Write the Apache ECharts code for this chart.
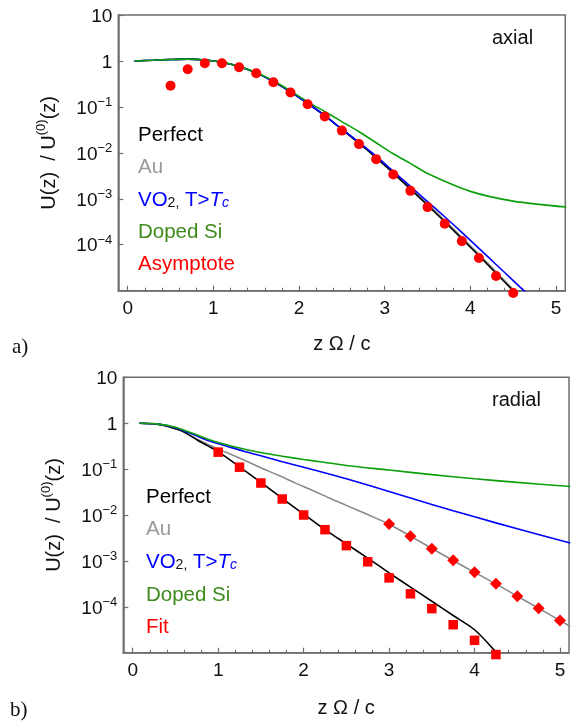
<!DOCTYPE html>
<html><head><meta charset="utf-8">
<script src="https://cdn.jsdelivr.net/npm/echarts@6/dist/echarts.min.js"></script>
<style>html,body{margin:0;padding:0;background:#fff}#c{width:581px;height:724px}</style>
</head><body><div id="c"></div>
<script>
// ---------- data ----------
const xMajor = [0, 1, 2, 3, 4, 5];
const xMinor = [0.2,0.4,0.6,0.8,1.2,1.4,1.6,1.8,2.2,2.4,2.6,2.8,3.2,3.4,3.6,3.8,4.2,4.4,4.6,4.8];

// panel a) axial
const axPerfX = [0.08,0.3,0.5,0.7,0.9,1.1,1.3,1.5,1.7,1.9,2.1,2.3,2.5,2.7,2.9,3.1,3.3,3.5,3.7,3.9,4.1,4.3,4.5,4.55];
const axPerfY = [1,1.035,1.072,1.096,1.047,0.933,0.759,0.550,0.355,0.214,0.120,0.0646,0.0324,0.0162,7.76e-3,3.63e-3,1.62e-3,7.24e-4,3.16e-4,1.35e-4,5.75e-5,2.40e-5,1.0e-5,8.1e-6];
const axAuX = [0.08,0.3,0.5,0.7,0.9,1.1,1.3,1.5,1.7,1.9,2.1,2.3,2.5,2.7,2.9,3.1,3.3,3.5,3.7,3.9,4.1,4.3,4.5,4.6];
const axAuY = [1,1.035,1.072,1.096,1.047,0.933,0.759,0.550,0.355,0.214,0.120,0.0646,0.0331,0.0170,8.13e-3,3.80e-3,1.74e-3,7.76e-4,3.39e-4,1.45e-4,6.17e-5,2.57e-5,1.07e-5,7.1e-6];
const axVOX = [0.08,0.3,0.5,0.7,0.9,1.1,1.3,1.5,1.7,1.9,2.1,2.3,2.5,2.7,2.9,3.1,3.3,3.5,3.7,3.9,4.1,4.3,4.5,4.7];
const axVOY = [1,1.035,1.072,1.096,1.047,0.933,0.759,0.550,0.355,0.214,0.120,0.0646,0.0331,0.0170,8.51e-3,3.98e-3,1.86e-3,8.71e-4,4.07e-4,1.86e-4,8.32e-5,3.72e-5,1.66e-5,7.4e-6];
const axSiX = [0.08,0.3,0.5,0.7,0.9,1.1,1.3,1.5,1.7,1.9,2.1,2.3,2.5,2.7,2.9,3.1,3.3,3.5,4.0,4.5,5.12];
const axSiY = [1,1.035,1.072,1.096,1.047,0.933,0.759,0.562,0.372,0.224,0.129,0.0794,0.0479,0.0288,0.0166,9.55e-3,5.89e-3,3.55e-3,1.45e-3,8.91e-4,6.61e-4];
const axAsymX = [0.5,0.7,0.9,1.1,1.3,1.5,1.7,1.9,2.1,2.3,2.5,2.7,2.9,3.1,3.3,3.5,3.7,3.9,4.1,4.3,4.5];
const axAsymY = [0.290,0.659,0.891,0.891,0.729,0.540,0.344,0.205,0.114,0.0617,0.0305,0.0155,7.29e-3,3.39e-3,1.49e-3,6.59e-4,2.86e-4,1.20e-4,5.13e-5,2.09e-5,8.9e-6];

// panel b) radial
const raPerfX = [0.08,0.3,0.4,0.5,0.6,0.75,0.875,1.0,1.25,1.5,1.75,2.0,2.25,2.5,2.75,3.0,3.25,3.5,3.75,4.0,4.26,4.3];
const raPerfY = [1,0.944,0.861,0.759,0.646,0.437,0.324,0.240,0.112,0.0513,0.0229,0.0105,4.79e-3,2.34e-3,1.15e-3,5.50e-4,2.69e-4,1.32e-4,6.46e-5,3.16e-5,1.0e-5,8.3e-6];
const raAuX = [0.08,0.3,0.5,0.7,0.9,1.1,1.3,1.5,1.7,1.9,2.1,2.3,2.5,2.75,3.0,3.25,3.5,3.75,4.0,4.25,4.5,4.75,5.0,5.12];
const raAuY = [1,0.955,0.776,0.501,0.331,0.229,0.158,0.107,0.0741,0.0501,0.0347,0.0234,0.0162,0.0102,6.31e-3,3.47e-3,1.86e-3,1.02e-3,5.62e-4,3.16e-4,1.70e-4,9.33e-5,5.01e-5,3.72e-5];
const raVOX = [0.08,0.3,0.5,0.7,0.9,1.1,1.3,1.5,1.75,2.0,2.19,2.5,3.0,3.5,4.0,4.5,5.12];
const raVOY = [1,0.955,0.794,0.575,0.407,0.316,0.245,0.195,0.145,0.110,0.0891,0.0617,0.0324,0.0170,9.12e-3,5.01e-3,2.45e-3];
const raSiX = [0.08,0.3,0.5,0.7,0.9,1.1,1.3,1.5,1.75,2.0,2.19,2.5,3.0,3.5,4.0,4.5,5.12];
const raSiY = [1,0.955,0.813,0.603,0.437,0.339,0.275,0.229,0.191,0.162,0.145,0.120,0.0955,0.0759,0.0617,0.0513,0.0419];
const raFitPerfX = [1.0,1.25,1.5,1.75,2.0,2.25,2.5,2.75,3.0,3.25,3.5,3.75,4.0,4.25];
const raFitPerfY = [0.234,0.110,0.0497,0.0223,0.0100,4.79e-3,2.15e-3,9.55e-4,4.27e-4,1.92e-4,9.12e-5,4.07e-5,1.86e-5,9.1e-6];
const raFitAuX = [3.0,3.25,3.5,3.75,4.0,4.25,4.5,4.75,5.0];
const raFitAuY = [6.37e-3,3.43e-3,1.85e-3,1.03e-3,5.65e-4,3.16e-4,1.70e-4,9.33e-5,5.01e-5];

// ---------- styles ----------
const SANS = '"Liberation Sans", Arial, sans-serif';
const SERIF = '"Liberation Serif", "DejaVu Serif", serif';
const AX = '#6e6e6e';
const C_PERF = '#000000', C_AU = '#8a8a8a', C_VO = '#0000ff', C_SI = '#0ba00b', C_RED = '#ff0000';
const C_SI_TXT = '#3f8a1c', C_AU_TXT = '#9a9a9a';

const zip = (xs, ys) => xs.map((x, i) => [x, ys[i]]);

function yAxisCfg(gi) {
  return {
    type: 'log', logBase: 10, gridIndex: gi, min: 1e-5, max: 10,
    axisLine: { show: true, onZero: false, lineStyle: { color: AX, width: 1.5 } },
    axisTick: { show: true, inside: true, length: 5, lineStyle: { color: AX, width: 1.2 } },
    splitLine: { show: false },
    axisLabel: {
      margin: 6, color: '#111', fontFamily: SANS, fontSize: 19,
      formatter: v => {
        const e = Math.round(Math.log10(v));
        if (e <= -5) return '';
        if (e === 1) return '{b|10}';
        if (e === 0) return '{b|1}';
        return '{b|10}{s|\u2212' + (-e) + '}';
      },
      rich: {
        b: { fontSize: 19, fontFamily: SANS, color: '#111', lineHeight: 22, verticalAlign: 'bottom' },
        s: { fontSize: 13, fontFamily: SANS, color: '#111', lineHeight: 13, verticalAlign: 'top' }
      }
    },
    name: '{b|U(z)  / U}{s|(0)}{b|(z)}',
    nameLocation: 'middle', nameRotate: 90, nameGap: 59,
    nameTextStyle: {
      fontFamily: SANS, fontSize: 20, color: '#111',
      rich: {
        b: { fontSize: 20, fontFamily: SANS, color: '#111', lineHeight: 24, verticalAlign: 'bottom' },
        s: { fontSize: 13, fontFamily: SANS, color: '#111', lineHeight: 13, verticalAlign: 'top' }
      }
    }
  };
}
function xAxisMain(gi, min, max, gap) {
  return {
    type: 'value', gridIndex: gi, min: min, max: max, position: 'bottom',
    axisLine: { show: true, onZero: false, lineStyle: { color: AX, width: 1.5 } },
    axisTick: { show: true, inside: true, length: 5, customValues: xMajor, lineStyle: { color: AX, width: 1.2 } },
    axisLabel: { customValues: xMajor, margin: 9, color: '#111', fontFamily: SANS, fontSize: 19 },
    splitLine: { show: false },
    name: 'z \u03A9 / c', nameLocation: 'middle', nameGap: gap,
    nameTextStyle: { fontFamily: SANS, fontSize: 20, color: '#111' }
  };
}
function xAxisMinor(gi, min, max) {
  return {
    type: 'value', gridIndex: gi, min: min, max: max, position: 'bottom',
    axisLine: { show: false, onZero: false },
    axisTick: { show: true, inside: true, length: 3, customValues: xMinor, lineStyle: { color: AX, width: 1.1 } },
    axisLabel: { show: false },
    splitLine: { show: false }
  };
}
function lineS(name, xi, yi, xs, ys, color) {
  return { name, type: 'line', xAxisIndex: xi, yAxisIndex: yi, data: zip(xs, ys), smooth: 0.3,
    showSymbol: false, symbol: 'none', lineStyle: { color, width: 1.6 }, itemStyle: { color }, z: 2 };
}
function legendCfg(left, top, gap, last) {
  return {
    orient: 'vertical', left, top, padding: 0, icon: 'none', itemWidth: 0, itemHeight: 20, itemGap: gap,
    selectedMode: false,
    textStyle: { fontFamily: SANS, fontSize: 20.5, lineHeight: 20,
      rich: {
        v: { fontSize: 20.5, fontFamily: SANS, color: C_VO, lineHeight: 20, verticalAlign: 'middle' },
        sub: { fontSize: 14, fontFamily: SANS, color: '#111', lineHeight: 9, verticalAlign: 'bottom' },
        vi: { fontSize: 20.5, fontFamily: SANS, color: C_VO, fontStyle: 'italic', lineHeight: 20, verticalAlign: 'middle' },
        vs: { fontSize: 14, fontFamily: SANS, color: C_VO, fontStyle: 'italic', lineHeight: 9, verticalAlign: 'bottom' }
      }
    },
    formatter: n => n === 'VO2' ? '{v|VO}{sub|2,} {v|T>}{vi|T}{vs|c}' : n,
    data: [
      { name: 'Perfect', textStyle: { color: '#000' } },
      { name: 'Au', textStyle: { color: C_AU_TXT } },
      { name: 'VO2', textStyle: { color: C_VO } },
      { name: 'Doped Si', textStyle: { color: C_SI_TXT } },
      { name: last, textStyle: { color: C_RED } }
    ]
  };
}

const option = {
  backgroundColor: '#fff',
  animation: false,
  grid: [
    { left: 118.3, top: 15, width: 447, height: 275.7, show: true, borderColor: AX, borderWidth: 1.5, backgroundColor: 'transparent' },
    { left: 123.3, top: 377.3, width: 445.7, height: 275.4, show: true, borderColor: AX, borderWidth: 1.5, backgroundColor: 'transparent' }
  ],
  xAxis: [
    xAxisMain(0, -0.11, 5.108, 44), xAxisMinor(0, -0.11, 5.108),
    xAxisMain(1, -0.11, 5.105, 46), xAxisMinor(1, -0.11, 5.105)
  ],
  yAxis: [yAxisCfg(0), yAxisCfg(1)],
  legend: [legendCfg(133, 125, 11.3, 'Asymptote'), legendCfg(141, 486.7, 11.6, 'Fit')],
  graphic: [
    { type: 'text', left: 492, top: 28, style: { text: 'axial', font: '20px ' + SANS, fill: '#111' } },
    { type: 'text', left: 492, top: 390, style: { text: 'radial', font: '20px ' + SANS, fill: '#111' } },
    { type: 'text', left: 12, top: 337, style: { text: 'a)', font: '21px ' + SERIF, fill: '#111' } },
    { type: 'text', left: 10, top: 700, style: { text: 'b)', font: '21px ' + SERIF, fill: '#111' } }
  ],
  series: [
    lineS('Au', 0, 0, axAuX, axAuY, C_AU),
    lineS('Perfect', 0, 0, axPerfX, axPerfY, C_PERF),
    lineS('VO2', 0, 0, axVOX, axVOY, C_VO),
    lineS('Doped Si', 0, 0, axSiX, axSiY, C_SI),
    { name: 'Asymptote', type: 'scatter', xAxisIndex: 0, yAxisIndex: 0, data: zip(axAsymX, axAsymY),
      symbol: 'circle', symbolSize: 10, itemStyle: { color: C_RED, opacity: 1 }, clip: false, z: 3 },

    lineS('Au', 2, 1, raAuX, raAuY, C_AU),
    lineS('Perfect', 2, 1, raPerfX, raPerfY, C_PERF),
    lineS('VO2', 2, 1, raVOX, raVOY, C_VO),
    lineS('Doped Si', 2, 1, raSiX, raSiY, C_SI),
    { name: 'Fit', type: 'scatter', xAxisIndex: 2, yAxisIndex: 1, data: zip(raFitPerfX, raFitPerfY),
      symbol: 'rect', symbolSize: 9.5, itemStyle: { color: C_RED, opacity: 1 }, clip: false, z: 3 },
    { name: 'Fit', type: 'scatter', xAxisIndex: 2, yAxisIndex: 1, data: zip(raFitAuX, raFitAuY),
      symbol: 'diamond', symbolSize: 12, itemStyle: { color: C_RED, opacity: 1 }, clip: false, z: 3 }
  ]
};
const chart = echarts.init(document.getElementById('c'), null, { renderer: 'canvas' });
chart.setOption(option);
</script></body></html>
